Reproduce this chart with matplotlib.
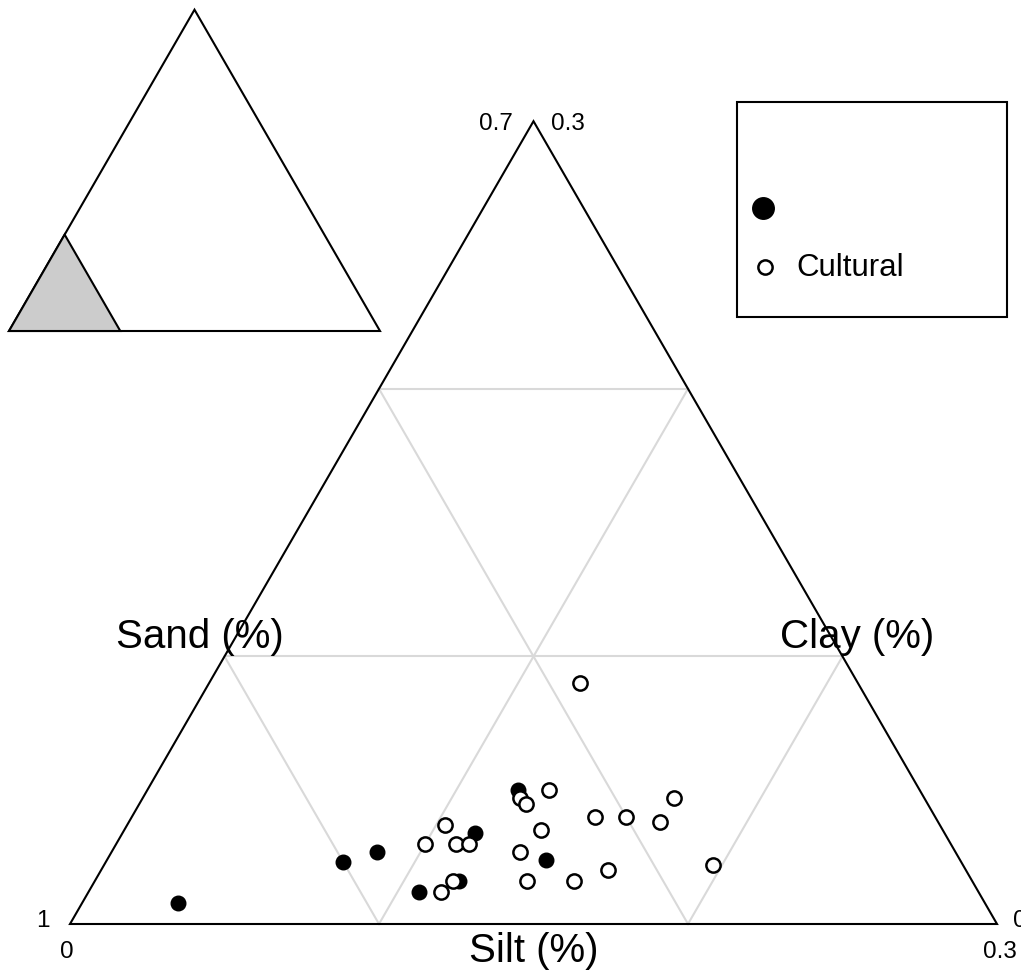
import numpy as np
import matplotlib.pyplot as plt
from matplotlib.patches import Polygon, Rectangle

plt.rcParams["font.family"] = ["Liberation Sans", "DejaVu Sans"]

# axis ranges shown in the zoomed triangle (fractions)
sand_min, clay_max, silt_max = 0.7, 0.3, 0.3

# samples (silt, clay fractions); sand = 1 - silt - clay
open_silt = [0.120, 0.130, 0.122, 0.125, 0.150, 0.160, 0.172, 0.172, 0.135, 0.103,
             0.100, 0.110, 0.114, 0.132, 0.164, 0.197, 0.116, 0.114, 0.140, 0.155]
open_clay = [0.090, 0.050, 0.047, 0.045, 0.040, 0.040, 0.047, 0.038, 0.035, 0.037,
             0.030, 0.030, 0.030, 0.027, 0.020, 0.022, 0.016, 0.012, 0.016, 0.016]
fill_silt = [0.120, 0.114, 0.142, 0.118, 0.107, 0.086, 0.077, 0.031]
fill_clay = [0.050, 0.034, 0.024, 0.016, 0.012, 0.027, 0.023, 0.008]

H = np.sqrt(3) / 2


def to_xy(silt, clay):
    silt = np.asarray(silt) / silt_max
    clay = np.asarray(clay) / clay_max
    return silt + 0.5 * clay, H * clay


# figure: 927 px per triangle side, bottom-left corner at pixel (70, 924)
fig = plt.figure(figsize=(10.21, 9.74), dpi=100)
ax = fig.add_axes([0, 0, 1, 1])
ax.set_xlim(-70 / 927, (1021 - 70) / 927)
ax.set_ylim(-50 / 927, (974 - 50) / 927)
ax.axis("off")

# grid lines at thirds
grid_kw = dict(color="#d9d9d9", lw=1.5, zorder=1)
for f in (1 / 3, 2 / 3):
    ax.plot([f / 2, 1 - f / 2], [H * f, H * f], **grid_kw)
    ax.plot([f, f / 2], [0, H * f], **grid_kw)
    ax.plot([f, (1 + f) / 2], [0, H * (1 - f)], **grid_kw)
ax.add_patch(Polygon([[0, 0], [1, 0], [0.5, H]], closed=True, fill=False,
                     ec="black", lw=1.5, zorder=2))

# points
ox, oy = to_xy(open_silt, open_clay)
fx, fy = to_xy(fill_silt, fill_clay)
ax.scatter(fx, fy, s=110, c="black", edgecolors="black", lw=1, zorder=3)
ax.scatter(ox, oy, s=105, facecolors="white", edgecolors="black", lw=1.8, zorder=4)

# corner labels
fs = 17.5
ax.text(0.5 - 0.022, H - 0.003, "0.7", fontsize=fs, ha="right", va="center")
ax.text(0.5 + 0.019, H - 0.003, "0.3", fontsize=fs, ha="left", va="center")
ax.text(-0.022, 0.003, "1", fontsize=fs, ha="right", va="center")
ax.text(-0.003, -0.030, "0", fontsize=fs, ha="center", va="center")
ax.text(1.017, 0.003, "0", fontsize=fs, ha="left", va="center")
ax.text(1.003, -0.030, "0.3", fontsize=fs, ha="center", va="center")

# axis titles
ax.text((200 - 70) / 927, (924 - 637) / 927, "Sand (%)", fontsize=29,
        ha="center", va="center")
ax.text((857 - 70) / 927, (924 - 637) / 927, "Clay (%)", fontsize=29,
        ha="center", va="center")
ax.text(0.5, (924 - 951) / 927, "Silt (%)", fontsize=29, ha="center", va="center")

# inset showing location in full triangle (pixel origin 9,331, side 371)
s = 371 / 927
x0, y0 = (9 - 70) / 927, (924 - 331) / 927
ax.add_patch(Polygon([[x0, y0], [x0 + s, y0], [x0 + s / 2, y0 + s * H]],
                     closed=True, fill=False, ec="black", lw=1.5, zorder=2))
ax.add_patch(Polygon([[x0, y0], [x0 + s * silt_max, y0],
                      [x0 + s * clay_max / 2, y0 + s * H * clay_max]],
                     closed=True, fc="#cccccc", ec="black", lw=1.5, zorder=2))

# legend box
lx0, ly0 = (737 - 70) / 927, (924 - 317) / 927
ax.add_patch(Rectangle((lx0, ly0), 270 / 927, 215 / 927, fill=False,
                       ec="black", lw=1.5, zorder=2))
ax.scatter([(763 - 70) / 927], [(924 - 208) / 927], s=240, c="black", zorder=3)
ax.scatter([(765 - 70) / 927], [(924 - 267) / 927], s=105, facecolors="white",
           edgecolors="black", lw=1.8, zorder=3)
ax.text((796 - 70) / 927, (924 - 268) / 927, "Cultural", fontsize=22.5,
        ha="left", va="center")

plt.savefig("out.png", dpi=100)
